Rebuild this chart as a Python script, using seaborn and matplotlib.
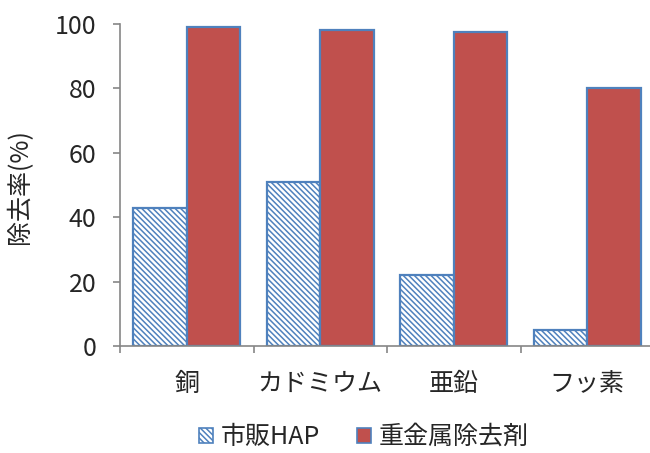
import matplotlib
matplotlib.use("Agg")
import matplotlib.pyplot as plt
import seaborn as sns
import pandas as pd
from matplotlib.patches import Patch

# Removal rate (%) by element, for commercial HAP and the heavy-metal remover
categories = ["銅", "カドミウム", "亜鉛", "フッ素"]
series_names = ["市販HAP", "重金属除去剤"]
hap_values = [43, 51, 22, 5]
remover_values = [99, 98, 97.5, 80]
y_ticks = [0, 20, 40, 60, 80, 100]

df = pd.DataFrame({
    "element": categories * 2,
    "series": [series_names[0]] * len(categories) + [series_names[1]] * len(categories),
    "rate": hap_values + remover_values,
})

sns.set_theme(style="white")
plt.rcParams["font.family"] = ["Noto Sans CJK JP", "DejaVu Sans"]
plt.rcParams["hatch.linewidth"] = 1.1
plt.rcParams["hatch.color"] = "#4F81BD"

blue = "#4F81BD"
red = "#C0504D"
grey = "#868686"
hatch = "\\" * 6
fs = 18

fig = plt.figure(figsize=(6.5, 4.53), dpi=100)
ax = fig.add_axes([120 / 650, (453 - 346) / 453, 534 / 650, 322 / 453])

sns.barplot(data=df, x="element", y="rate", hue="series", hue_order=series_names,
            palette=["white", red], width=0.8, gap=0, ax=ax, legend=False,
            edgecolor=blue, linewidth=1.6, saturation=1)

for bar in ax.containers[0]:
    bar.set_hatch(hatch)
    bar.set_facecolor("white")
    bar.set_edgecolor(blue)

ax.set_xlim(-0.5, len(categories) - 0.5)
ax.set_ylim(0, 100)
ax.set_yticks(y_ticks)
ax.set_xticks([i - 0.5 for i in range(len(categories) + 1)], minor=False)
ax.set_xticklabels([])
ax.set_xticks(range(len(categories)), minor=True)
ax.set_xticklabels(categories, minor=True, fontsize=fs)
ax.tick_params(axis="x", which="minor", length=0, pad=18)
ax.tick_params(axis="x", which="major", direction="out", length=5, width=1.2, color=grey, bottom=True)
ax.tick_params(axis="y", direction="out", length=5, width=1.2, color=grey, labelsize=fs, left=True, pad=12)

for side in ["top", "right"]:
    ax.spines[side].set_visible(False)
for side in ["left", "bottom"]:
    ax.spines[side].set_color(grey)
    ax.spines[side].set_linewidth(1.2)

ax.set_xlabel("")
ax.set_ylabel("除去率(%)", fontsize=fs)
ax.yaxis.set_label_coords((33 - 120) / 534, (346 - 187) / 322)

handles = [
    Patch(facecolor="white", edgecolor=blue, hatch=hatch, linewidth=1.2),
    Patch(facecolor=red, edgecolor=blue, linewidth=1.2),
]
fig.legend(handles, series_names, loc="center", bbox_to_anchor=(364 / 650, 1 - 437 / 453),
           ncol=2, frameon=False, fontsize=fs, handlelength=0.55, handleheight=0.55,
           handletextpad=0.3, columnspacing=1.5)

fig.savefig("out.png", dpi=100)
